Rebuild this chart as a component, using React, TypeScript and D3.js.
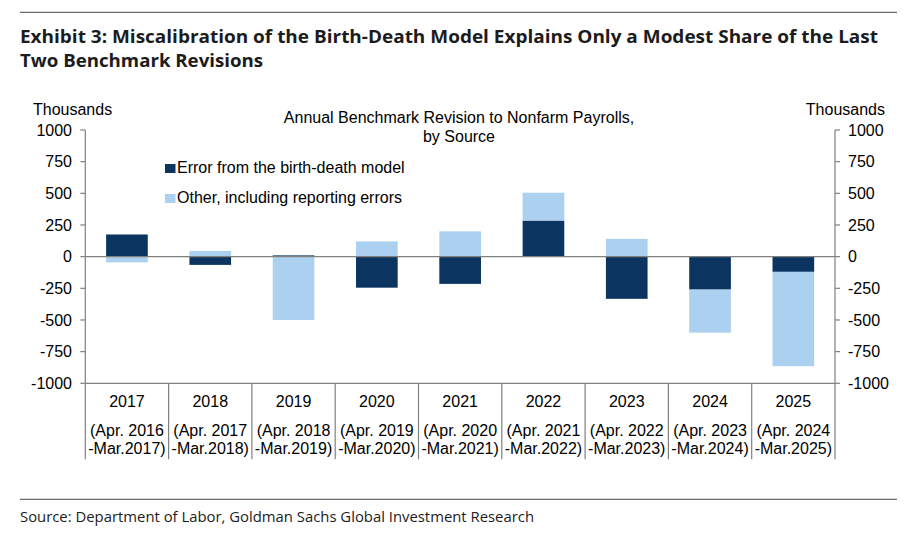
import React from "react";
import * as d3 from "d3";

const years = ["2017", "2018", "2019", "2020", "2021", "2022", "2023", "2024", "2025"];
const periodsTop = ["(Apr. 2016", "(Apr. 2017", "(Apr. 2018", "(Apr. 2019", "(Apr. 2020", "(Apr. 2021", "(Apr. 2022", "(Apr. 2023", "(Apr. 2024"];
const periodsBottom = ["-Mar.2017)", "-Mar.2018)", "-Mar.2019)", "-Mar.2020)", "-Mar.2021)", "-Mar.2022)", "-Mar.2023)", "-Mar.2024)", "-Mar.2025)"];
const birthDeath = [175, -65, 10, -245, -215, 285, -333, -260, -120];
const otherErrors = [-45, 45, -500, 120, 200, 220, 140, -340, -745];
const yTicks = [1000, 750, 500, 250, 0, -250, -500, -750, -1000];
const seriesNames = ["Error from the birth-death model", "Other, including reporting errors"];
const seriesColors = ["#0b3461", "#abd0f0"];

const W = 910;
const H = 543;
const left = 85.3;
const right = 835;
const top = 130;
const bottom = 383.3;
const axisColor = "#808080";
const chartFont = "'Liberation Sans', Arial, sans-serif";
const titleFont = "'Open Sans', 'Noto Sans', sans-serif";

export default function App() {
  const rows = years.map((y, i) => ({ year: y, bd: birthDeath[i], other: otherErrors[i] }));
  const stack = d3.stack<any>().keys(["bd", "other"]).offset(d3.stackOffsetDiverging);
  const stacked = stack(rows);

  const x = d3.scaleBand<string>().domain(years).range([left, right]).paddingInner(0.5).paddingOuter(0.25);
  const y = d3.scaleLinear().domain([-1000, 1000]).range([bottom, top]);
  const step = x.step();
  const bandStart = (yr: string) => (x(yr) as number) - step * 0.25;

  return (
    <svg width={W} height={H} style={{ position: "absolute", left: 0, top: 0, background: "#fff" }}>
      <rect x={0} y={0} width={W} height={H} fill="#fff" />
      {/* top rule */}
      <line x1={20} x2={897} y1={12.3} y2={12.3} stroke="#6b6b6b" strokeWidth={1.3} />
      <text x={20} y={43} fontFamily={titleFont} fontWeight={700} fontSize={18.5} fill="#1c1c1c" textLength={858} lengthAdjust="spacingAndGlyphs">
        Exhibit 3: Miscalibration of the Birth-Death Model Explains Only a Modest Share of the Last
      </text>
      <text x={20} y={67} fontFamily={titleFont} fontWeight={700} fontSize={18.5} fill="#1c1c1c" textLength={243} lengthAdjust="spacingAndGlyphs">
        Two Benchmark Revisions
      </text>

      {/* bars */}
      {stacked.map((s, si) => (
        <g key={s.key}>
          {s.map((d, i) => (
            <rect
              key={i}
              x={x(years[i])}
              width={x.bandwidth()}
              y={y(Math.max(d[0], d[1]))}
              height={Math.abs(y(d[0]) - y(d[1]))}
              fill={seriesColors[si]}
            />
          ))}
        </g>
      ))}

      {/* zero line */}
      <line x1={left} x2={right} y1={y(0)} y2={y(0)} stroke={axisColor} strokeWidth={1.2} />

      {/* axes */}
      <line x1={left} x2={left} y1={top} y2={bottom} stroke={axisColor} strokeWidth={1.2} />
      <line x1={right} x2={right} y1={top} y2={bottom} stroke={axisColor} strokeWidth={1.2} />
      <line x1={left} x2={right} y1={bottom} y2={bottom} stroke={axisColor} strokeWidth={1.2} />
      {yTicks.map((t) => (
        <g key={t}>
          <line x1={left - 5} x2={left} y1={y(t)} y2={y(t)} stroke={axisColor} strokeWidth={1.2} />
          <line x1={right} x2={right + 5} y1={y(t)} y2={y(t)} stroke={axisColor} strokeWidth={1.2} />
          <text x={72} y={y(t)} dy="0.36em" textAnchor="end" fontFamily={chartFont} fontSize={16} fill="#000">
            {t}
          </text>
          <text x={848} y={y(t)} dy="0.36em" textAnchor="start" fontFamily={chartFont} fontSize={16} fill="#000">
            {t}
          </text>
        </g>
      ))}

      {/* category separators and labels */}
      {years.map((yr, i) => (
        <line key={"sep" + i} x1={bandStart(yr)} x2={bandStart(yr)} y1={bottom} y2={459.3} stroke={axisColor} strokeWidth={1.2} />
      ))}
      <line x1={right} x2={right} y1={bottom} y2={459.3} stroke={axisColor} strokeWidth={1.2} />
      {years.map((yr, i) => {
        const cx = (x(yr) as number) + x.bandwidth() / 2;
        return (
          <g key={"lab" + yr} fontFamily={chartFont} fill="#000" textAnchor="middle">
            <text x={cx} y={407} fontSize={16}>{yr}</text>
            <text x={cx} y={436} fontSize={16}>{periodsTop[i]}</text>
            <text x={cx} y={453.5} fontSize={16}>{periodsBottom[i]}</text>
          </g>
        );
      })}

      {/* unit labels */}
      <text x={33} y={115} fontFamily={chartFont} fontSize={16} fill="#000">Thousands</text>
      <text x={885} y={115} textAnchor="end" fontFamily={chartFont} fontSize={16} fill="#000">Thousands</text>

      {/* chart title */}
      <text x={459} y={123} textAnchor="middle" fontFamily={chartFont} fontSize={16} fill="#000">
        Annual Benchmark Revision to Nonfarm Payrolls,
      </text>
      <text x={459} y={141.5} textAnchor="middle" fontFamily={chartFont} fontSize={16} fill="#000">
        by Source
      </text>

      {/* legend */}
      {seriesNames.map((n, i) => (
        <g key={n}>
          <rect x={165} y={164 + i * 30} width={10.5} height={9} fill={seriesColors[i]} />
          <text x={177} y={173 + i * 30} fontFamily={chartFont} fontSize={16} fill="#000">{n}</text>
        </g>
      ))}

      {/* source */}
      <line x1={20} x2={897} y1={499.3} y2={499.3} stroke="#6b6b6b" strokeWidth={1.3} />
      <text x={20} y={521.5} fontFamily={titleFont} fontSize={14.5} fill="#1c1c1c" textLength={514} lengthAdjust="spacingAndGlyphs">
        Source: Department of Labor, Goldman Sachs Global Investment Research
      </text>
    </svg>
  );
}
